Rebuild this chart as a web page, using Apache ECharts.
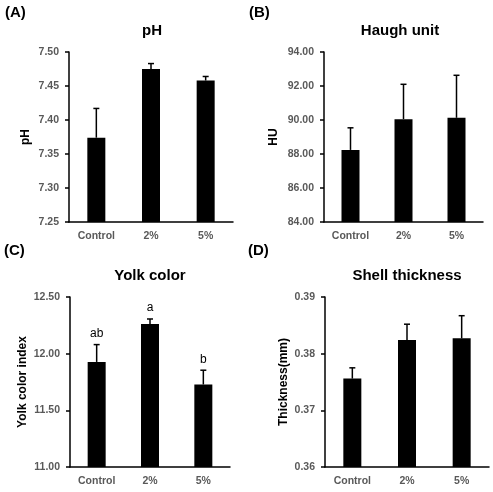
<!DOCTYPE html>
<html>
<head>
<meta charset="utf-8">
<script src="https://cdn.jsdelivr.net/npm/echarts@6/dist/echarts.min.js"></script>
<style>
  html, body { margin: 0; padding: 0; background: #fff; }
  #chart { width: 493px; height: 492px; }
</style>
</head>
<body>
<div id="chart"></div>
<script>
// data
const categories = ['Control', '2%', '5%'];

const phMean = [7.374, 7.475, 7.458];
const phErr = [0.043, 0.008, 0.006];

const huMean = [88.24, 90.05, 90.13];
const huErr = [1.30, 2.05, 2.50];

const yolkMean = [11.927, 12.262, 11.728];
const yolkErr = [0.153, 0.044, 0.126];
const yolkLetters = ['ab', 'a', 'b'];

const shellMean = [0.3756, 0.3824, 0.3827];
const shellErr = [0.0019, 0.0028, 0.0040];

const panels = [
  { tag: '(A)', title: 'pH', yName: 'pH', mean: phMean, err: phErr, letters: null,
    min: 7.25, max: 7.5, interval: 0.05, nameGap: 37,
    grid: { left: 69, top: 52, width: 164, height: 170 }, titleX: 152, tagPos: [5, 13] },
  { tag: '(B)', title: 'Haugh unit', yName: 'HU', mean: huMean, err: huErr, letters: null,
    min: 84, max: 94, interval: 2, nameGap: 44,
    grid: { left: 324, top: 52, width: 159, height: 170 }, titleX: 400, tagPos: [249, 13] },
  { tag: '(C)', title: 'Yolk color', yName: 'Yolk color index', mean: yolkMean, err: yolkErr, letters: yolkLetters,
    min: 11, max: 12.5, interval: 0.5, nameGap: 41,
    grid: { left: 70, top: 297, width: 160, height: 170 }, titleX: 150, tagPos: [4, 251] },
  { tag: '(D)', title: 'Shell thickness', yName: 'Thickness(mm)', mean: shellMean, err: shellErr, letters: null,
    min: 0.36, max: 0.39, interval: 0.01, nameGap: 35,
    grid: { left: 325, top: 297, width: 164, height: 170 }, titleX: 407, tagPos: [248, 251] }
];

const chart = echarts.init(document.getElementById('chart'));

const tickColor = '#595959';
const font = 'Liberation Sans, Arial, sans-serif';

const grids = [], xAxes = [], yAxes = [], series = [], texts = [];

panels.forEach((p, i) => {
  grids.push(p.grid);
  texts.push({
    type: 'text',
    x: p.titleX,
    y: p.grid.top - 21,
    style: { text: p.title, fill: '#000', font: 'bold 15px ' + font, align: 'center', verticalAlign: 'middle' }
  });
  texts.push({
    type: 'text',
    x: p.tagPos[0],
    y: p.tagPos[1],
    style: { text: p.tag, fill: '#000', font: 'bold 15px ' + font, align: 'left', verticalAlign: 'middle' }
  });
  xAxes.push({
    type: 'category',
    gridIndex: i,
    data: categories,
    axisLine: { lineStyle: { color: '#000', width: 1.5 } },
    axisTick: { show: false },
    axisLabel: { color: tickColor, fontFamily: font, fontSize: 10.5, fontWeight: 'bold', margin: 9 }
  });
  yAxes.push({
    type: 'value',
    gridIndex: i,
    min: p.min,
    max: p.max,
    interval: p.interval,
    name: p.yName,
    nameLocation: 'middle',
    nameRotate: 90,
    nameGap: p.nameGap,
    nameTextStyle: { fontFamily: font, fontSize: 12, fontWeight: 'bold', color: '#000' },
    axisLine: { show: true, lineStyle: { color: '#000', width: 1.5 } },
    axisTick: { show: true, length: 4, lineStyle: { color: '#000', width: 1.5 } },
    splitLine: { show: false },
    axisLabel: {
      color: tickColor, fontFamily: font, fontSize: 10.5, fontWeight: 'bold', margin: 10,
      formatter: v => v.toFixed(2)
    }
  });
  series.push({
    type: 'bar',
    xAxisIndex: i,
    yAxisIndex: i,
    barWidth: 18,
    itemStyle: { color: '#000' },
    data: p.mean
  });
  series.push({
    type: 'custom',
    xAxisIndex: i,
    yAxisIndex: i,
    z: 5,
    data: p.mean.map((m, k) => [k, m, m + p.err[k]]),
    renderItem: (params, api) => {
      const k = api.value(0);
      const base = api.coord([k, api.value(1)]);
      const top = api.coord([k, api.value(2)]);
      const children = [
        { type: 'line', shape: { x1: base[0], y1: base[1], x2: top[0], y2: top[1] },
          style: { stroke: '#000', lineWidth: 1.5 } },
        { type: 'line', shape: { x1: top[0] - 3, y1: top[1], x2: top[0] + 3, y2: top[1] },
          style: { stroke: '#000', lineWidth: 1.5 } }
      ];
      if (p.letters) {
        children.push({
          type: 'text',
          x: top[0],
          y: top[1] - 11,
          style: {
            text: p.letters[k], fill: '#000', font: '12px ' + font,
            align: 'center', verticalAlign: 'middle'
          }
        });
      }
      return { type: 'group', children: children };
    }
  });
});

chart.setOption({
  backgroundColor: '#fff',
  animation: false,
  graphic: texts,
  grid: grids,
  xAxis: xAxes,
  yAxis: yAxes,
  series: series
});
</script>
</body>
</html>
